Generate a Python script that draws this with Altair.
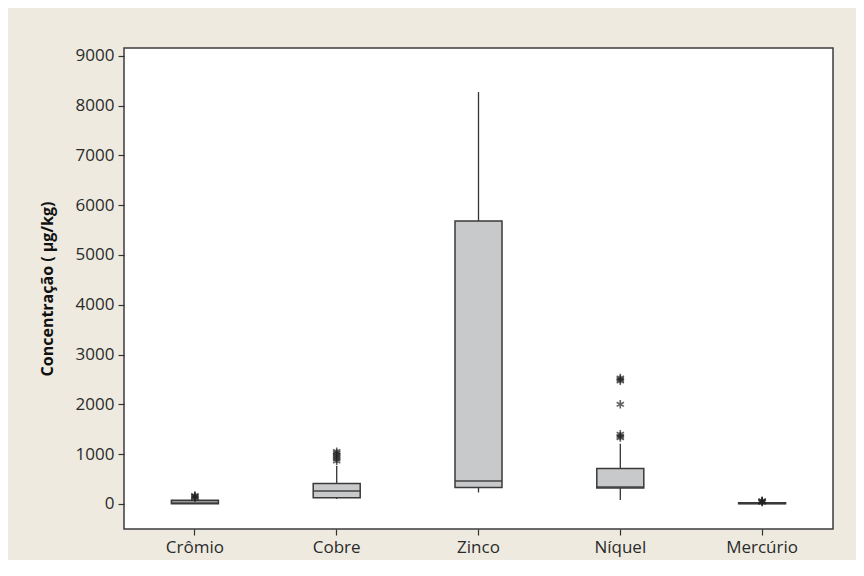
import altair as alt
import pandas as pd

categories = ["Crômio", "Cobre", "Zinco", "Níquel", "Mercúrio"]
lower_whisker = [0, 100, 230, 80, 0]
q1 = [5, 125, 330, 320, 5]
median = [30, 260, 460, 340, 15]
q3 = [75, 410, 5680, 710, 25]
upper_whisker = [110, 760, 8270, 1210, 35]

outlier_cat = (["Crômio"] * 4 + ["Cobre"] * 6 + ["Níquel"] * 7 + ["Mercúrio"] * 4)
outlier_val = ([120, 140, 155, 170]
               + [860, 900, 940, 980, 1020, 1050]
               + [1330, 1360, 1400, 2000, 2470, 2500, 2530]
               + [35, 45, 55, 65])

y_ticks = [0, 1000, 2000, 3000, 4000, 5000, 6000, 7000, 8000, 9000]

stats = pd.DataFrame({
    "cat": categories, "lw": lower_whisker, "q1": q1, "med": median,
    "q3": q3, "uw": upper_whisker,
})
outliers = pd.DataFrame({"cat": outlier_cat, "val": outlier_val})

LABEL_FONT = "Open Sans"

xenc = alt.X("cat:N", sort=categories, title=None,
             scale=alt.Scale(paddingInner=0, paddingOuter=0),
             axis=alt.Axis(labelAngle=0))
yscale = alt.Scale(domain=[-504, 9155], nice=False, zero=False)
yaxis = alt.Axis(values=y_ticks, format="d", title="Concentração ( µg/kg)", grid=False)

base = alt.Chart(stats)

low = base.mark_rule(color="#333333", strokeWidth=1.3).encode(
    x=xenc, y=alt.Y("lw:Q", scale=yscale, axis=yaxis), y2="q1:Q")
high = base.mark_rule(color="#333333", strokeWidth=1.3).encode(
    x=xenc, y=alt.Y("q3:Q", scale=yscale, axis=yaxis), y2="uw:Q")
box = base.mark_bar(size=47, fill="#C8C9CB", stroke="#3a3a3a", strokeWidth=1.5).encode(
    x=xenc, y=alt.Y("q1:Q", scale=yscale, axis=yaxis), y2="q3:Q")
med = base.mark_tick(size=47, thickness=2, color="#3a3a3a").encode(
    x=xenc, y=alt.Y("med:Q", scale=yscale, axis=yaxis))

asterisk = ("M0,-1L0,1M-0.87,-0.5L0.87,0.5M-0.87,0.5L0.87,-0.5")
pts = alt.Chart(outliers).mark_point(shape=asterisk, filled=False, size=70,
                                     stroke="#222222", strokeWidth=1.6).encode(
    x=xenc, y=alt.Y("val:Q", scale=yscale, axis=yaxis))

chart = alt.layer(low, high, box, med, pts).properties(
    width=709, height=481,
    autosize=alt.AutoSizeParams(type="none"),
    padding={"left": 116, "top": 40, "right": 23, "bottom": 31},
    background="#EEEAE0",
).configure_view(
    fill="white", stroke="#3c3c3c", strokeWidth=1.5
).configure_axis(
    domain=False, grid=False,
    labelFont=LABEL_FONT, labelFontSize=17, labelColor="#2a2a2a",
    tickColor="#333333", tickSize=6, tickWidth=1.2, labelPadding=4,
    titleFont="Open Sans", titleFontSize=16, titleFontWeight="bold",
    titleColor="#111111", titlePadding=20,
).configure_axisX(labelPadding=4)

chart.save("out.html", embed_options={"renderer": "svg", "actions": False})
